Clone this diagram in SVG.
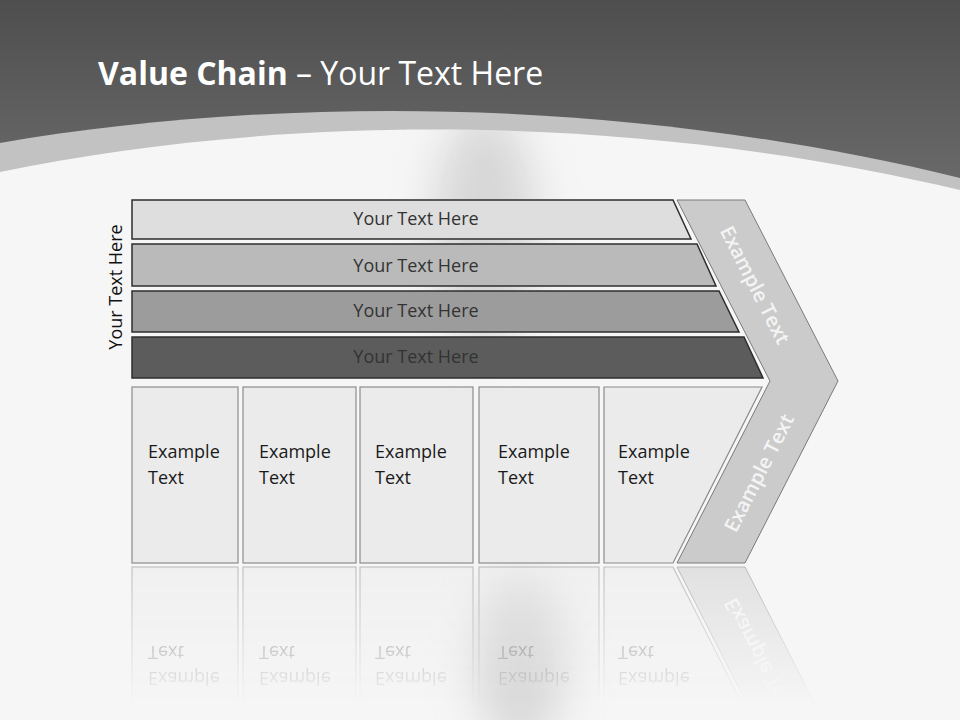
<svg xmlns="http://www.w3.org/2000/svg" xmlns:xlink="http://www.w3.org/1999/xlink" width="960" height="720" viewBox="0 0 960 720">
<style>
.row{stroke:#2e2e2e;stroke-width:1.5}
.rowtxt{font-family:"Open Sans","DejaVu Sans",sans-serif;font-size:18px;fill:#333;text-anchor:middle}
.box{fill:#ebebeb;stroke:#8c8c8c;stroke-width:1.2}
.boxtxt{font-family:"Open Sans","DejaVu Sans",sans-serif;font-size:18px;fill:#1a1a1a}
.chev{fill:#cbcbcb;stroke:#7a7a7a;stroke-width:1}
.chevtxt{font-family:"Open Sans","DejaVu Sans",sans-serif;font-size:20px;font-weight:600;fill:#f4f4f4;text-anchor:middle}
</style>
<defs>
<linearGradient id="hdr" x1="0" y1="0" x2="0" y2="1">
<stop offset="0" stop-color="#4e4e4e"/>
<stop offset="1" stop-color="#6c6c6c"/>
</linearGradient>
<linearGradient id="fadeGrad" gradientUnits="userSpaceOnUse" x1="0" y1="566" x2="0" y2="705">
<stop offset="0" stop-color="#fff" stop-opacity="0.5"/>
<stop offset="1" stop-color="#fff" stop-opacity="0"/>
</linearGradient>
<mask id="fade" maskUnits="userSpaceOnUse" x="0" y="560" width="960" height="160">
<rect x="0" y="565" width="960" height="155" fill="url(#fadeGrad)"/>
</mask>
<filter id="blur" x="-100%" y="-100%" width="300%" height="300%">
<feGaussianBlur stdDeviation="22"/>
</filter>
<clipPath id="whiteClip">
<path d="M0,172 C250,120 600,105 960,190 L960,720 L0,720 Z"/>
</clipPath>
</defs>

<!-- background -->
<rect width="960" height="720" fill="#f5f5f5"/>
<rect width="960" height="200" fill="url(#hdr)"/>
<path d="M0,143 C250,100 600,90 960,178 L960,720 L0,720 Z" fill="#c2c2c2"/>
<path d="M0,172 C250,120 600,105 960,190 L960,720 L0,720 Z" fill="#f6f6f6"/>
<g clip-path="url(#whiteClip)" filter="url(#blur)" opacity="0.5">
<ellipse cx="485" cy="230" rx="50" ry="120" fill="#b8b8b8"/>
<ellipse cx="520" cy="660" rx="45" ry="90" fill="#bcbcbc"/>
</g>

<text x="98" y="85" font-family="Open Sans, DejaVu Sans, sans-serif" font-size="32" fill="#ffffff"><tspan font-weight="bold">Value Chain</tspan> – Your Text Here</text>

<text transform="translate(122,287) rotate(-90)" font-family="Open Sans, DejaVu Sans, sans-serif" font-size="18" fill="#111" text-anchor="middle">Your Text Here</text>

<g id="row1"><polygon class="row" points="132,200 673,200 691,239 132,239" fill="#dedede"/><text class="rowtxt" x="416" y="225">Your Text Here</text></g>
<g id="row2"><polygon class="row" points="132,244 697,244 716,286 132,286" fill="#bababa"/><text class="rowtxt" x="416" y="272">Your Text Here</text></g>
<g id="row3"><polygon class="row" points="132,291 719,291 739,332 132,332" fill="#9c9c9c"/><text class="rowtxt" x="416" y="317">Your Text Here</text></g>
<g id="row4"><polygon class="row" points="132,337 744,337 763,378 132,378" fill="#5c5c5c"/><text class="rowtxt" x="416" y="363">Your Text Here</text></g>

<g id="chevron">
<polygon class="chev" points="677,200 745,200 838,381 745,563 677,563 770,381"/>
<text class="chevtxt" transform="translate(755,285) rotate(63)" y="7">Example Text</text>
<text class="chevtxt" transform="translate(759,473) rotate(-63)" y="7">Example Text</text>
</g>

<g id="box1"><rect class="box" x="132" y="387" width="106" height="176"/><text class="boxtxt" x="148" y="458">Example</text><text class="boxtxt" x="148" y="484">Text</text></g>
<g id="box2"><rect class="box" x="243" y="387" width="113" height="176"/><text class="boxtxt" x="259" y="458">Example</text><text class="boxtxt" x="259" y="484">Text</text></g>
<g id="box3"><rect class="box" x="360" y="387" width="113" height="176"/><text class="boxtxt" x="375" y="458">Example</text><text class="boxtxt" x="375" y="484">Text</text></g>
<g id="box4"><rect class="box" x="479" y="387" width="120" height="176"/><text class="boxtxt" x="498" y="458">Example</text><text class="boxtxt" x="498" y="484">Text</text></g>
<g id="box5"><polygon class="box" points="604,387 762,387 673,563 604,563"/><text class="boxtxt" x="618" y="458">Example</text><text class="boxtxt" x="618" y="484">Text</text></g>

<g id="reflection" mask="url(#fade)">
<g transform="matrix(1 0 0 -1 0 1130)">
<use xlink:href="#box1"/>
<use xlink:href="#box2"/>
<use xlink:href="#box3"/>
<use xlink:href="#box4"/>
<use xlink:href="#box5"/>
<use xlink:href="#chevron"/>
</g>
</g>
</svg>
